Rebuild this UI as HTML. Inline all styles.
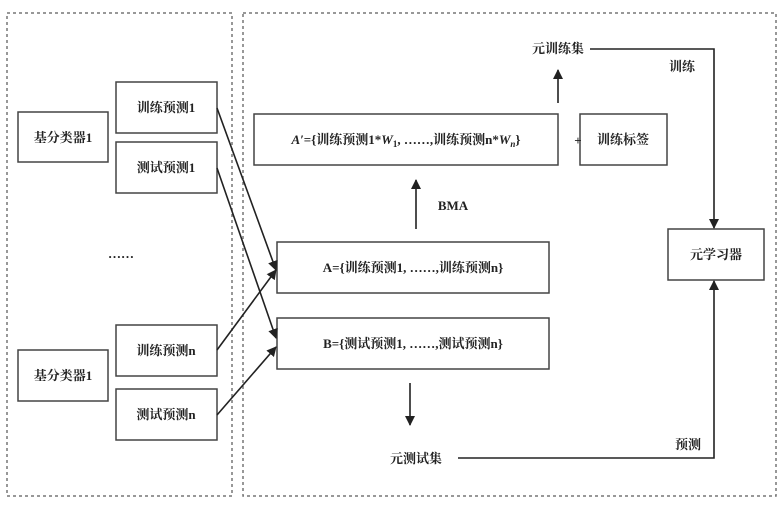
<!DOCTYPE html>
<html><head><meta charset="utf-8"><style>
body{margin:0;background:#fff;}
svg text{font-family:"Liberation Serif","Noto Serif CJK SC",serif;font-size:13px;font-weight:bold;fill:#222;}
</style></head><body>
<svg width="780" height="503" viewBox="0 0 780 503" xmlns="http://www.w3.org/2000/svg">
<defs><marker id="a" markerWidth="10" markerHeight="10" refX="9" refY="5" orient="auto" markerUnits="userSpaceOnUse"><path d="M0,0 L10,5 L0,10 z" fill="#222"/></marker></defs>
<g fill="none" stroke="#777" stroke-width="1.5" stroke-dasharray="3,3">
<rect x="7" y="13" width="225" height="483"/>
<rect x="243" y="13" width="533" height="483"/>
</g>
<g fill="#fff" stroke="#444" stroke-width="1.5">
<rect x="18" y="112" width="90" height="50"/>
<rect x="116" y="82" width="101" height="51"/>
<rect x="116" y="142" width="101" height="51"/>
<rect x="116" y="325" width="101" height="51"/>
<rect x="18" y="350" width="90" height="51"/>
<rect x="116" y="389" width="101" height="51"/>
<rect x="254" y="114" width="304" height="51"/>
<rect x="580" y="114" width="87" height="51"/>
<rect x="277" y="242" width="272" height="51"/>
<rect x="277" y="318" width="272" height="51"/>
<rect x="668" y="229" width="96" height="51"/>
</g>
<g stroke="#222" stroke-width="1.6" fill="none" marker-end="url(#a)">
<line x1="217" y1="108" x2="276" y2="270"/>
<line x1="217" y1="168" x2="276" y2="338"/>
<line x1="217" y1="350" x2="276" y2="270"/>
<line x1="217" y1="415" x2="276" y2="347"/>
<line x1="558" y1="103" x2="558" y2="70"/>
<line x1="416" y1="229" x2="416" y2="180"/>
<line x1="410" y1="383" x2="410" y2="425"/>
<polyline points="590,49 714,49 714,228"/>
<polyline points="458,458 714,458 714,281"/>
</g>
<g text-anchor="middle">
<text x="63" y="142">基分类器1</text>
<text x="166" y="112">训练预测1</text>
<text x="166" y="172">测试预测1</text>
<text x="121" y="258">……</text>
<text x="166" y="355">训练预测n</text>
<text x="63" y="380">基分类器1</text>
<text x="166" y="419">测试预测n</text>
<text x="406" y="144"><tspan font-style="italic">A′</tspan>={训练预测1*<tspan font-style="italic">W</tspan><tspan font-size="9" dy="3">1</tspan><tspan dy="-3">, ……,训练预测n*</tspan><tspan font-style="italic">W</tspan><tspan font-size="9" dy="3" font-style="italic">n</tspan><tspan dy="-3">}</tspan></text>
<text x="578" y="145" font-size="15">+</text>
<text x="623" y="144">训练标签</text>
<text x="413" y="272">A={训练预测1, ……,训练预测n}</text>
<text x="413" y="348">B={测试预测1, ……,测试预测n}</text>
<text x="716" y="259">元学习器</text>
<text x="558" y="53">元训练集</text>
<text x="682" y="71">训练</text>
<text x="453" y="210">BMA</text>
<text x="416" y="463">元测试集</text>
<text x="688" y="449">预测</text>
</g>
</svg>
</body></html>
